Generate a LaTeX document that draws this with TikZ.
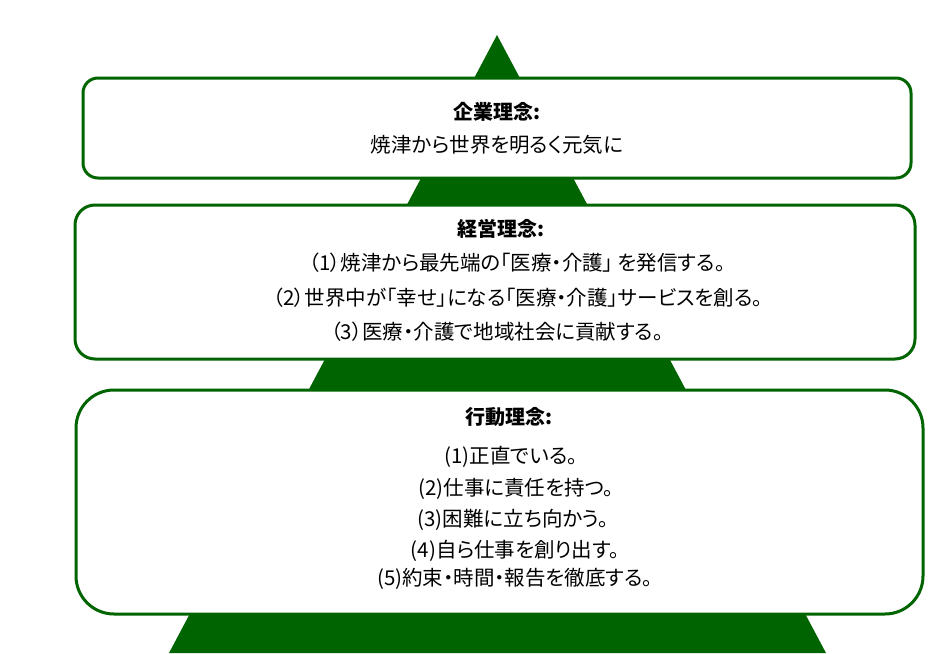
\documentclass[tikz,border=0pt]{standalone}
\usepackage{fontspec}
\newfontfamily\cjk[RawFeature=+palt]{Noto Sans CJK JP}
\usepackage{xcolor}
\usetikzlibrary{positioning}
\definecolor{pyramidgreen}{RGB}{0,100,0}

\begin{document}
\begin{tikzpicture}[x=1pt, y=-1pt, font=\cjk\fontsize{20.5}{24}\selectfont,
    kasten/.style={draw=pyramidgreen, line width=3pt, fill=white, inner sep=0pt},
    titel/.style={font=\cjk\bfseries\fontsize{20}{24}\selectfont},
    zeile/.style={inner sep=0pt}]
            \useasboundingbox (0,0) rectangle (950,653);
            % Pyramide
            \fill[pyramidgreen] (497,35) -- (826,653) -- (169,653) -- cycle;
            % Kästen
            \node[kasten, rounded corners=15pt, minimum width=828pt, minimum height=100pt] (kigyo) at (497,128) {};
            \node[kasten, rounded corners=20pt, minimum width=840pt, minimum height=154pt] (keiei) at (495,282) {};
            \node[kasten, rounded corners=38pt, minimum width=847pt, minimum height=224pt] (kodo) at (499.5,502) {};
            % Texte
            \node[titel, zeile] (kigyoT) at (497,112) {企業理念:};
            \node[zeile] (kigyo1) at (497,145) {焼津から世界を明るく元気に};
            \node[titel, zeile] (keieiT) at (501,229) {経営理念:};
            \node[zeile] (keiei1) at (517,263) {（1）焼津から最先端の「医療・介護」 を発信する。};
            \node[zeile] (keiei2) at (518,298) {（2）世界中が「幸せ」になる「医療・介護」サービスを創る。};
            \node[zeile] (keiei3) at (497,332) {（3）医療・介護で地域社会に貢献する。};
            \node[titel, zeile] (kodoT) at (509,417) {行動理念:};
            \node[zeile] (kodo1) at (511,457) {(1)正直でいる。};
            \node[zeile] (kodo2) at (516,489) {(2)仕事に責任を持つ。};
            \node[zeile] (kodo3) at (513,520) {(3)困難に立ち向かう。};
            \node[zeile] (kodo4) at (515,551) {(4)自ら仕事を創り出す。};
            \node[zeile] (kodo5) at (515,579) {(5)約束・時間・報告を徹底する。};
        \end{tikzpicture}
\end{document}
